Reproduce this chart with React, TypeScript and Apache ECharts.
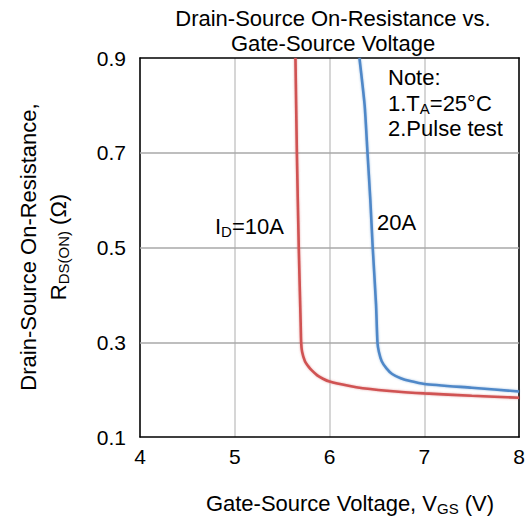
import React, { useEffect, useRef } from "react";
import * as echarts from "echarts";

const xMin = 4;
const xMax = 8;
const yMin = 0.1;
const yMax = 0.9;
const yLabelValues = [0.1, 0.3, 0.5, 0.7, 0.9];
const yGridValues = [0.3, 0.5, 0.7];

const id10Vgs = [5.64, 5.655, 5.675, 5.695, 5.7, 5.71, 5.74, 5.78, 5.81, 5.87, 5.93, 6.0, 6.2, 6.35, 6.7, 7.0, 7.5, 8.0];
const id10Rds = [0.9, 0.7, 0.5, 0.34, 0.3, 0.28, 0.26, 0.248, 0.241, 0.23, 0.223, 0.217, 0.208, 0.203, 0.196, 0.192, 0.187, 0.183];

const id20Vgs = [6.315, 6.37, 6.4, 6.43, 6.455, 6.49, 6.505, 6.52, 6.55, 6.6, 6.66, 6.75, 6.85, 7.0, 7.5, 8.0];
const id20Rds = [0.9, 0.8, 0.7, 0.6, 0.5, 0.38, 0.3, 0.28, 0.26, 0.245, 0.233, 0.224, 0.218, 0.212, 0.204, 0.196];

const FONT = "'Liberation Sans', Arial, sans-serif";
const FS = 22;
const TICK_FS = 21;

export default function App() {
  const ref = useRef<HTMLDivElement>(null);
  useEffect(() => {
    document.body.style.margin = "0";
    if (!ref.current) return;
    const chart = echarts.init(ref.current, null, { renderer: "svg" });
    const zip = (a: number[], b: number[]) => a.map((v, i) => [v, b[i]]);
    const base = { fontSize: FS, fontFamily: FONT, color: "#000" };
    const rich = { a: { ...base, lineHeight: 26 }, s: { fontSize: 15, fontFamily: FONT, color: "#000", verticalAlign: "bottom", lineHeight: 24 } };
    const borderAxis = { show: true, lineStyle: { color: "#000", width: 1.5 } };
    chart.setOption({
      animation: false,
      grid: { left: 140, right: 8, top: 58, bottom: 83 },
      xAxis: [
        {
          type: "value", min: xMin, max: xMax, interval: 1,
          axisLine: borderAxis, axisTick: { show: false },
          axisLabel: { color: "#000", fontSize: TICK_FS, fontFamily: FONT, margin: 9 },
          splitLine: { show: true, lineStyle: { color: "#d6d6d6", width: 2 } },
        },
        {
          type: "value", position: "top", min: xMin, max: xMax, interval: 1,
          axisLine: borderAxis, axisTick: { show: false }, axisLabel: { show: false }, splitLine: { show: false },
        },
      ],
      yAxis: [
        {
          type: "value", min: yMin, max: yMax, interval: 0.1,
          axisLine: borderAxis, axisTick: { show: false },
          axisLabel: {
            color: "#000", fontSize: TICK_FS, fontFamily: FONT, margin: 14,
            formatter: (v: number) => (yLabelValues.some((t) => Math.abs(t - v) < 1e-6) ? v.toFixed(1) : ""),
          },
          splitLine: { show: false },
        },
        {
          type: "value", position: "right", min: yMin, max: yMax, interval: 0.1,
          axisLine: borderAxis, axisTick: { show: false }, axisLabel: { show: false }, splitLine: { show: false },
        },
      ],
      series: [
        {
          type: "line", data: zip(id10Vgs, id10Rds), smooth: 0.2, showSymbol: false, symbol: "none",
          lineStyle: { color: "#d05252", width: 2.6, shadowBlur: 2, shadowColor: "rgba(208,82,82,0.5)" },
          markLine: {
            silent: true, symbol: "none", label: { show: false },
            lineStyle: { color: "#a9a9a9", width: 1.5, type: "solid" },
            data: yGridValues.map((v) => ({ yAxis: v })),
            z: 1,
          },
          z: 3,
        },
        {
          type: "line", data: zip(id20Vgs, id20Rds), smooth: 0.2, showSymbol: false, symbol: "none",
          lineStyle: { color: "#5088c8", width: 2.6, shadowBlur: 2, shadowColor: "rgba(80,136,200,0.5)" },
          z: 3,
        },
      ],
      graphic: [
        { type: "text", x: 333, y: 18, style: { ...base, fill: "#000", text: "Drain-Source On-Resistance vs.", textAlign: "center", textVerticalAlign: "middle" } },
        { type: "text", x: 333, y: 43, style: { ...base, fill: "#000", text: "Gate-Source Voltage", textAlign: "center", textVerticalAlign: "middle" } },
        { type: "text", x: 388, y: 77, z: 10, style: { ...base, fill: "#000", text: "Note:", textVerticalAlign: "middle" } },
        {
          type: "text", x: 388, y: 103, z: 10,
          style: { ...base, fill: "#000", text: "{a|1.T}{s|A}{a|=25°C}", textVerticalAlign: "middle", rich },
        },
        { type: "text", x: 388, y: 128, z: 10, style: { ...base, fill: "#000", text: "2.Pulse test", textVerticalAlign: "middle" } },
        {
          type: "text", x: 215, y: 226, z: 10,
          style: { ...base, fill: "#000", text: "{a|I}{s|D}{a|=10A}", textVerticalAlign: "middle", rich },
        },
        { type: "text", x: 377, y: 222, z: 10, style: { ...base, fill: "#000", text: "20A", textVerticalAlign: "middle" } },
        {
          type: "text", x: 28, y: 247, rotation: Math.PI / 2,
          style: { ...base, fill: "#000", text: "Drain-Source On-Resistance,", textAlign: "center", textVerticalAlign: "middle" },
        },
        {
          type: "text", x: 58, y: 247, rotation: Math.PI / 2,
          style: { ...base, fill: "#000", text: "{a|R}{s|DS(ON)}{a| (Ω)}", textAlign: "center", textVerticalAlign: "middle", rich },
        },
        {
          type: "text", x: 350, y: 503,
          style: { ...base, fill: "#000", text: "{a|Gate-Source Voltage, V}{s|GS}{a| (V)}", textAlign: "center", textVerticalAlign: "middle", rich },
        },
      ],
    });
    return () => chart.dispose();
  }, []);
  return <div ref={ref} style={{ width: 528, height: 520 }} />;
}
